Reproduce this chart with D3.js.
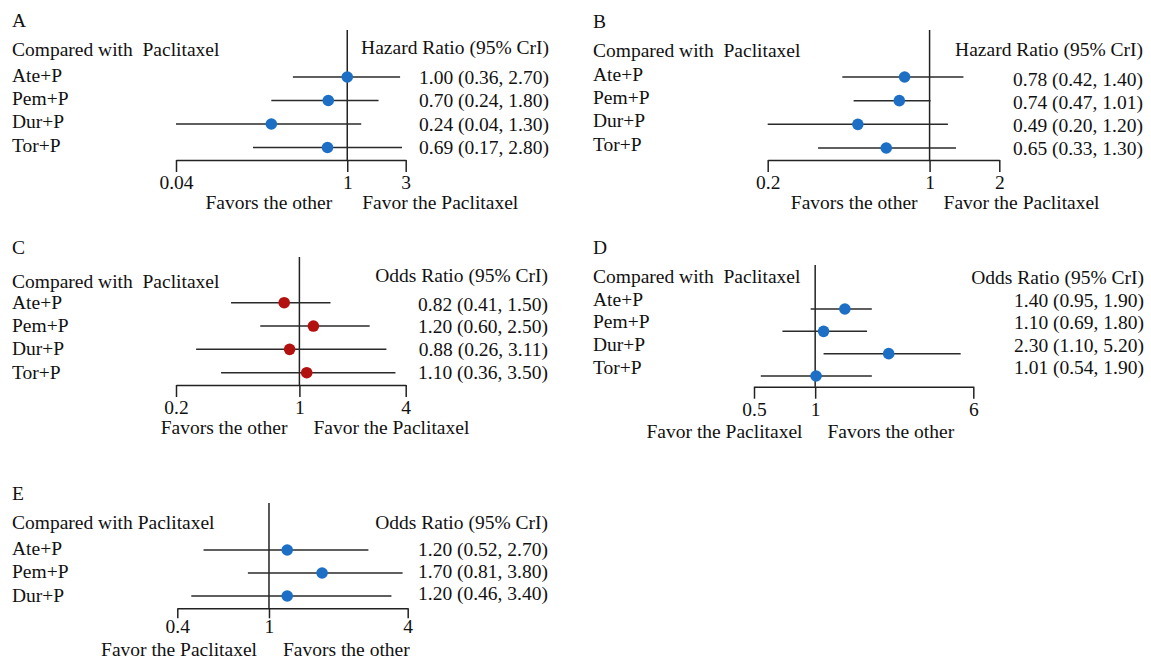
<!DOCTYPE html>
<html>
<head>
<meta charset="utf-8">
<script src="https://cdn.jsdelivr.net/npm/d3@7"></script>
<style>
  body { margin: 0; background: #fff; }
  svg { display: block; }
  text { font-family: "Liberation Serif", "Times New Roman", serif; font-size: 19.5px; fill: #111; }
</style>
</head>
<body>
<div id="chart"></div>
<script>

// rows
var rowNames = ["Ate+P", "Pem+P", "Dur+P", "Tor+P"];
var rowNamesE = ["Ate+P", "Pem+P", "Dur+P"];

// A - hazard ratio
var estA = [1.00, 0.70, 0.24, 0.69];
var lowA = [0.36, 0.24, 0.04, 0.17];
var highA = [2.70, 1.80, 1.30, 2.80];
var ticksA = [0.04, 1, 3];

// B - hazard ratio
var estB = [0.78, 0.74, 0.49, 0.65];
var lowB = [0.42, 0.47, 0.20, 0.33];
var highB = [1.40, 1.01, 1.20, 1.30];
var ticksB = [0.2, 1, 2];

// C - odds ratio
var estC = [0.82, 1.20, 0.88, 1.10];
var lowC = [0.41, 0.60, 0.26, 0.36];
var highC = [1.50, 2.50, 3.11, 3.50];
var ticksC = [0.2, 1, 4];

// D - odds ratio
var estD = [1.40, 1.10, 2.30, 1.01];
var lowD = [0.95, 0.69, 1.10, 0.54];
var highD = [1.90, 1.80, 5.20, 1.90];
var ticksD = [0.5, 1, 6];

// E - odds ratio
var estE = [1.20, 1.70, 1.20];
var lowE = [0.52, 0.81, 0.46];
var highE = [2.70, 3.80, 3.40];
var ticksE = [0.4, 1, 4];

var hrTitle = "Hazard Ratio (95% CrI)";
var orTitle = "Odds Ratio (95% CrI)";
var favOther = "Favors the other";
var favPac = "Favor the Paclitaxel";

var blue = "#1c6fc5";
var red = "#b3110f";

var w = 1151;
var h = 660;

var svg = d3.select("#chart")
  .append("svg")
  .attr("width", w)
  .attr("height", h);

svg.append("rect").attr("width", w).attr("height", h).attr("fill", "#fff");

var fmt = d3.format(".2f");

// layout of each panel
var panels = [
  { letter: "A", names: rowNames, est: estA, low: lowA, high: highA, ticks: ticksA,
    head: "Compared with\u00a0 Paclitaxel", title: hrTitle, favL: favOther, favR: favPac, color: blue,
    left: 12, letterY: 20, headY: 49, titleY: 47, right: 549,
    x0: 176, x1: 405.7, refTop: 30, axisY: 160, tickLen: 12, tickPad: 3,
    dotY: [77, 147.5], valY: [77, 147.5], labY: [75, 145], favY: 202, gapL: 15, gapR: 15 },
  { letter: "B", names: rowNames, est: estB, low: lowB, high: highB, ticks: ticksB,
    head: "Compared with\u00a0 Paclitaxel", title: hrTitle, favL: favOther, favR: favPac, color: blue,
    left: 593, letterY: 21, headY: 50, titleY: 49, right: 1143,
    x0: 767.7, x1: 999.3, refTop: 30, axisY: 160, tickLen: 12, tickPad: 3,
    dotY: [77, 148], valY: [79, 148], labY: [74, 144], favY: 202, gapL: 12, gapR: 14 },
  { letter: "C", names: rowNames, est: estC, low: lowC, high: highC, ticks: ticksC,
    head: "Compared with\u00a0 Paclitaxel", title: orTitle, favL: favOther, favR: favPac, color: red,
    left: 12, letterY: 247, headY: 281, titleY: 275, right: 548,
    x0: 176, x1: 405.7, refTop: 257, axisY: 385, tickLen: 12, tickPad: 3,
    dotY: [302.7, 372.7], valY: [304, 372.7], labY: [302, 372], favY: 427, gapL: 12, gapR: 14 },
  { letter: "D", names: rowNames, est: estD, low: lowD, high: highD, ticks: ticksD,
    head: "Compared with\u00a0 Paclitaxel", title: orTitle, favL: favPac, favR: favOther, color: blue,
    left: 593, letterY: 247, headY: 276, titleY: 277, right: 1144,
    x0: 754, x1: 973.3, refTop: 265, axisY: 386.7, tickLen: 12, tickPad: 3,
    dotY: [309, 376], valY: [300, 367.5], labY: [299, 367], favY: 431, gapL: 12.7, gapR: 12.3 },
  { letter: "E", names: rowNamesE, est: estE, low: lowE, high: highE, ticks: ticksE,
    head: "Compared with Paclitaxel", title: orTitle, favL: favPac, favR: favOther, color: blue,
    left: 12, letterY: 493, headY: 522.7, titleY: 522.7, right: 548,
    x0: 177.3, x1: 407.7, refTop: 503, axisY: 608.3, tickLen: 10, tickPad: 1,
    dotY: [550, 596], valY: [549, 593], labY: [548, 595], favY: 649, gapL: 12, gapR: 14 }
];

panels.forEach(function(p) {

  var g = svg.append("g");

  //log scale, domain from the outer ticks
  var x = d3.scaleLog()
    .domain([p.ticks[0], p.ticks[p.ticks.length - 1]])
    .range([p.x0, p.x1]);

  var yDot = d3.scalePoint().domain(p.names).range(p.dotY);
  var yVal = d3.scalePoint().domain(p.names).range(p.valY);
  var yLab = d3.scalePoint().domain(p.names).range(p.labY);

  var rows = p.names.map(function(n, i) {
    return { name: n, est: p.est[i], low: p.low[i], high: p.high[i] };
  });

  g.append("text")
    .attr("x", p.left)
    .attr("y", p.letterY)
    .attr("dominant-baseline", "central")
    .text(p.letter);

  g.append("text")
    .attr("x", p.left)
    .attr("y", p.headY)
    .attr("dominant-baseline", "central")
    .text(p.head);

  g.append("text")
    .attr("x", p.right)
    .attr("y", p.titleY)
    .attr("text-anchor", "end")
    .attr("dominant-baseline", "central")
    .text(p.title);

  //axis at the bottom
  var axis = g.append("g")
    .attr("transform", "translate(0," + p.axisY + ")")
    .call(d3.axisBottom(x)
      .tickValues(p.ticks)
      .tickFormat(function(d) { return String(d); })
      .tickSize(p.tickLen)
      .tickPadding(p.tickPad)
      .tickSizeOuter(0));

  axis.select(".domain").attr("stroke", "#222").attr("stroke-width", 1.5);
  axis.selectAll(".tick line").attr("stroke", "#222").attr("stroke-width", 1.5);
  axis.selectAll(".tick text")
    .attr("fill", "#111");
  axis.attr("font-size", null).attr("font-family", null);

  //line of no effect
  g.append("line")
    .attr("x1", x(1)).attr("x2", x(1))
    .attr("y1", p.refTop).attr("y2", p.axisY)
    .attr("stroke", "#222")
    .attr("stroke-width", 1.5);

  g.selectAll(".ci")
    .data(rows)
    .enter()
    .append("line")
    .attr("class", "ci")
    .attr("x1", function(d) { return x(d.low); })
    .attr("x2", function(d) { return x(d.high); })
    .attr("y1", function(d) { return yDot(d.name); })
    .attr("y2", function(d) { return yDot(d.name); })
    .attr("stroke", "#2a2a2a")
    .attr("stroke-width", 1.5);

  g.selectAll(".dot")
    .data(rows)
    .enter()
    .append("circle")
    .attr("class", "dot")
    .attr("cx", function(d) { return x(d.est); })
    .attr("cy", function(d) { return yDot(d.name); })
    .attr("r", 5.8)
    .attr("fill", p.color);

  g.selectAll(".lab")
    .data(rows)
    .enter()
    .append("text")
    .attr("class", "lab")
    .attr("x", p.left)
    .attr("y", function(d) { return yLab(d.name); })
    .attr("dominant-baseline", "central")
    .text(function(d) { return d.name; });

  g.selectAll(".val")
    .data(rows)
    .enter()
    .append("text")
    .attr("class", "val")
    .attr("x", p.right)
    .attr("y", function(d) { return yVal(d.name); })
    .attr("text-anchor", "end")
    .attr("dominant-baseline", "central")
    .text(function(d) {
      return fmt(d.est) + " (" + fmt(d.low) + ", " + fmt(d.high) + ")";
    });

  g.append("text")
    .attr("x", x(1) - p.gapL)
    .attr("y", p.favY)
    .attr("text-anchor", "end")
    .attr("dominant-baseline", "central")
    .text(p.favL);

  g.append("text")
    .attr("x", x(1) + p.gapR)
    .attr("y", p.favY)
    .attr("dominant-baseline", "central")
    .text(p.favR);
});

</script>
</body>
</html>
